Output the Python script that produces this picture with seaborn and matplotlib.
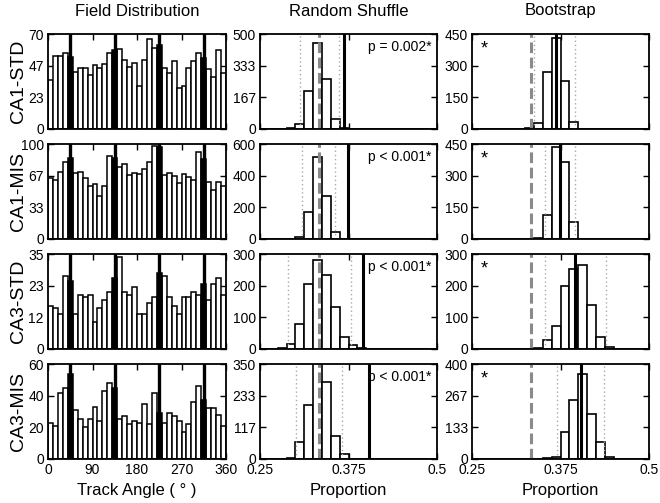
import numpy as np
import pandas as pd
import matplotlib
matplotlib.use("Agg")
import matplotlib.pyplot as plt
import seaborn as sns

sns.set_style("ticks")
plt.rcParams['font.family'] = ['Liberation Sans', 'DejaVu Sans']
plt.rcParams.update({'text.color': 'black', 'axes.labelcolor': 'black',
                     'axes.edgecolor': 'black', 'xtick.color': 'black',
                     'ytick.color': 'black'})

# ---- data ----
row_names = ['CA1-STD', 'CA1-MIS', 'CA3-STD', 'CA3-MIS']
col_titles = ['Field Distribution', 'Random Shuffle', 'Bootstrap']

# field distribution: counts per 10 degree bin (36 bins)
field_ca1_std = [36, 54, 54, 56, 53, 42, 45, 45, 40, 47, 45, 48, 56, 58, 59, 51, 46, 49,
                 32, 51, 66, 60, 62, 45, 41, 50, 30, 32, 45, 50, 56, 52, 44, 38, 58, 41]
field_ca1_mis = [64, 62, 71, 81, 85, 69, 71, 64, 56, 58, 45, 56, 87, 85, 76, 79, 67, 70,
                 68, 74, 81, 98, 97, 67, 69, 66, 59, 68, 65, 62, 92, 84, 60, 52, 60, 56]
field_ca3_std = [16, 15, 13, 27, 25, 13, 20, 19, 20, 10, 15, 18, 21, 26, 34, 21, 20, 23,
                 13, 13, 17, 19, 28, 27, 19, 16, 13, 19, 19, 21, 20, 24, 18, 24, 26, 20]
field_ca3_mis = [23, 21, 42, 45, 54, 31, 25, 20, 25, 33, 24, 43, 48, 45, 25, 27, 22, 24,
                 23, 35, 22, 42, 29, 23, 29, 27, 24, 17, 22, 36, 46, 37, 32, 32, 28, 21]
field_counts = [field_ca1_std, field_ca1_mis, field_ca3_std, field_ca3_mis]
field_black_bins = [4, 13, 22, 31]          # bins filled black
track_angles = [45, 135, 225, 315]          # thick black lines
field_ymax = [70, 100, 35, 60]
field_yticklabels = [['0', '23', '47', '70'], ['0', '33', '67', '100'],
                     ['0', '12', '23', '35'], ['0', '20', '40', '60']]

# proportion histograms: 20 bins of width 0.0125 from 0.25 to 0.5
shuf_ca1_std = [0, 0, 0, 5, 26, 198, 453, 265, 53, 4, 0, 0, 0, 0, 0, 0, 0, 0, 0, 0]
shuf_ca1_mis = [0, 0, 0, 0, 10, 168, 516, 270, 44, 0, 0, 0, 0, 0, 0, 0, 0, 0, 0, 0]
shuf_ca3_std = [0, 0, 3, 17, 79, 206, 282, 235, 134, 37, 14, 2, 0, 0, 0, 0, 0, 0, 0, 0]
shuf_ca3_mis = [0, 0, 0, 4, 61, 200, 355, 285, 85, 18, 0, 0, 0, 0, 0, 0, 0, 0, 0, 0]
boot_ca1_std = [0, 0, 0, 0, 0, 0, 5, 28, 270, 431, 226, 35, 2, 0, 0, 0, 0, 0, 0, 0]
boot_ca1_mis = [0, 0, 0, 0, 0, 0, 0, 5, 115, 436, 363, 79, 2, 0, 0, 0, 0, 0, 0, 0]
boot_ca3_std = [0, 0, 0, 0, 0, 0, 0, 3, 29, 72, 200, 253, 264, 140, 37, 5, 1, 0, 0, 0]
boot_ca3_mis = [0, 0, 0, 0, 0, 0, 0, 0, 3, 10, 115, 248, 358, 191, 73, 7, 0, 0, 0, 0]
shuf_counts = [shuf_ca1_std, shuf_ca1_mis, shuf_ca3_std, shuf_ca3_mis]
boot_counts = [boot_ca1_std, boot_ca1_mis, boot_ca3_std, boot_ca3_mis]

observed = [0.368, 0.3736, 0.396, 0.404]
chance = [1 / 3, 1 / 3, 1 / 3, 1 / 3]
shuf_ci = [(0.307, 0.362), (0.310, 0.356), (0.290, 0.379), (0.301, 0.366)]
boot_ci = [(0.3377, 0.396), (0.353, 0.396), (0.353, 0.439), (0.370, 0.436)]
shuf_ymax = [500, 600, 300, 350]
boot_ymax = [450, 450, 300, 400]
p_texts = ['p = 0.002*', 'p < 0.001*', 'p < 0.001*', 'p < 0.001*']

# ---- layout (pixels) ----
W, H = 660, 503
fig = plt.figure(figsize=(W / 100, H / 100), dpi=100)
col_left = [48, 260, 472]
col_width = [178, 177, 177]
row_top = [34, 144, 254, 364]
row_h = 95


def make_ax(r, c):
    rect = [col_left[c] / W, 1 - (row_top[r] + row_h) / H, col_width[c] / W, row_h / H]
    ax = fig.add_axes(rect)
    for s in ax.spines.values():
        s.set_linewidth(1.3)
    ax.tick_params(direction='in', top=True, right=True, length=4, width=1,
                   labelsize=10, pad=3)
    return ax


def yticks(ax, ymax, labels=None):
    ticks = [0, ymax / 3, 2 * ymax / 3, ymax]
    ax.set_ylim(0, ymax)
    ax.set_yticks(ticks)
    if labels is None:
        labels = ['%d' % round(t) for t in ticks]
    ax.set_yticklabels(labels)


def hist(ax, centers, counts, width, brange, color, lw):
    """Draw a pre-binned histogram (only the non-empty bins)."""
    df = pd.DataFrame({'x': centers, 'n': counts})
    df = df[df['n'] > 0]
    sns.histplot(data=df, x='x', weights='n', binwidth=width, binrange=brange, ax=ax,
                 color=color, edgecolor='black', linewidth=lw, alpha=1)


angle_centers = np.arange(5, 360, 10)
prop_centers = 0.25 + 0.0125 * (np.arange(20) + 0.5)

for r in range(4):
    # Field distribution
    ax = make_ax(r, 0)
    counts = np.array(field_counts[r], dtype=float)
    white = counts.copy()
    white[field_black_bins] = 0
    black = np.zeros_like(counts)
    black[field_black_bins] = counts[field_black_bins]
    hist(ax, angle_centers, white, 10, (0, 360), 'white', 1.1)
    hist(ax, angle_centers, black, 10, (0, 360), 'black', 1.1)
    for a in track_angles:
        ax.axvline(a, color='black', lw=2.4)
    ax.set_xlim(0, 360)
    ax.set_xticks([0, 90, 180, 270, 360])
    yticks(ax, field_ymax[r], field_yticklabels[r])
    ax.set_xlabel('')
    ax.set_ylabel('')
    if r < 3:
        ax.set_xticklabels([])
    else:
        ax.set_xlabel('Track Angle ( ° )', fontsize=12, labelpad=4)

    # Random shuffle and bootstrap
    for c, cnts, ci, ymax in [(1, shuf_counts[r], shuf_ci[r], shuf_ymax[r]),
                              (2, boot_counts[r], boot_ci[r], boot_ymax[r])]:
        ax = make_ax(r, c)
        hist(ax, prop_centers, cnts, 0.0125, (0.25, 0.5), 'white', 1.2)
        for v in ci:
            ax.axvline(v, color='#aaaaaa', lw=1, ls=(0, (1, 2)))
        ax.axvline(chance[r], color='#8a8a8a', lw=2.2, ls=(0, (3.5, 1.5)))
        ax.axvline(observed[r], color='black', lw=2.2)
        ax.set_xlim(0.25, 0.5)
        ax.set_xticks([0.25, 0.375, 0.5])
        ax.set_xticklabels(['0.25', '0.375', '0.5'])
        yticks(ax, ymax)
        ax.set_xlabel('')
        ax.set_ylabel('')
        if r < 3:
            ax.set_xticklabels([])
        else:
            ax.set_xlabel('Proportion', fontsize=12, labelpad=4)
        if c == 1:
            ax.text(0.97, 0.86, p_texts[r], transform=ax.transAxes,
                    ha='right', va='center', fontsize=10)
        else:
            ax.text(0.07, 0.84, '*', transform=ax.transAxes,
                    ha='center', va='center', fontsize=13)

    fig.text(18 / W, 1 - (row_top[r] + row_h / 2) / H, row_names[r],
             rotation=90, ha='center', va='center', fontsize=14)

for c in range(3):
    fig.text((col_left[c] + col_width[c] / 2) / W, 1 - 11 / H, col_titles[c],
             ha='center', va='center', fontsize=12)

fig.savefig('out.png', dpi=100)
